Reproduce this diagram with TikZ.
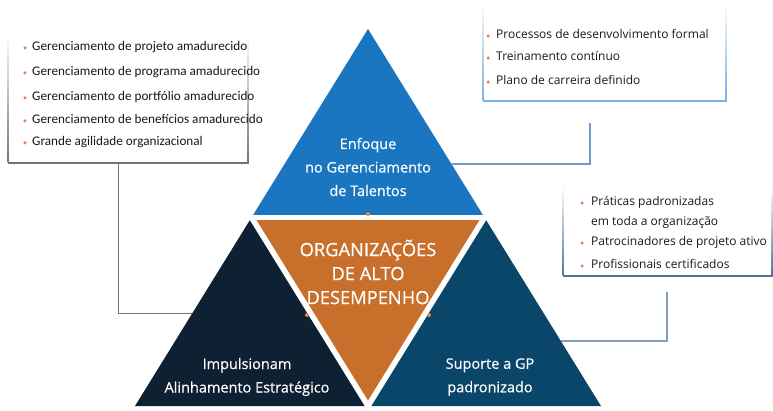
\documentclass[tikz,border=0pt]{standalone}
\usepackage{fontspec}
\setmainfont{Open Sans}
\newfontfamily\carl{Carlito}
\newfontfamily\lab{Open Sans}[FakeBold=0.4]
\usetikzlibrary{calc}
\definecolor{tblue}{HTML}{1A76C0}
\definecolor{torange}{HTML}{C8702B}
\definecolor{tnavy}{HTML}{0E2132}
\definecolor{tteal}{HTML}{0A4669}
\definecolor{bulc}{HTML}{E8874A}
\definecolor{boxgray}{HTML}{6D7580}
\definecolor{boxblue}{HTML}{7AAEE0}
\definecolor{boxsteel}{HTML}{51719A}
\begin{document}
\begin{tikzpicture}[x=1pt,y=-1pt,
  bul/.style={circle,fill=bulc,inner sep=0pt,minimum size=3.5pt},
  txtA/.style={anchor=mid west,inner sep=0pt,font=\carl\fontsize{13.2}{15}\selectfont,text=black!90},
  txtB/.style={anchor=mid west,inner sep=0pt,font=\fontsize{12}{14}\selectfont,text=black!90},
  tlabel/.style={align=center,text=white,inner sep=0pt,font=\lab\fontsize{14.5}{23.5}\selectfont},
  clabel/.style={align=center,text=white,inner sep=0pt,font=\lab\fontsize{18.3}{24}\selectfont},
  gapline/.style={white,line width=5.5pt},
  jdot/.style={circle,fill=bulc,inner sep=0pt,minimum size=4pt}]
\useasboundingbox (0,0) rectangle (773,411);
% big triangle subdivided
\coordinate (A) at (368,29);
\coordinate (BL) at (135,406);
\coordinate (BR) at (601,406);
\coordinate (L) at (251.5,217.5);
\coordinate (R) at (484.5,217.5);
\coordinate (B) at (368,406);
\fill[tblue] (A)--(L)--(R)--cycle;
\fill[torange] (L)--(R)--(B)--cycle;
\fill[tnavy] (L)--(BL)--(B)--cycle;
\fill[tteal] (R)--(B)--(BR)--cycle;
\draw[gapline] ($(L)!-0.05!(R)$) -- ($(R)!-0.05!(L)$);
\draw[gapline] ($(L)!-0.05!(B)$) -- ($(B)!-0.05!(L)$);
\draw[gapline] ($(R)!-0.05!(B)$) -- ($(B)!-0.05!(R)$);
\node[jdot] (j1) at (368,214) {};
\node[jdot] (j2) at (307,315) {};
\node[jdot] (j3) at (429,315) {};
% triangle labels
\node[tlabel] (n1) at (368,167) {Enfoque\\no Gerenciamento\\de Talentos};
\node[clabel] (n0) at (368,272) {ORGANIZAÇÕES\\DE ALTO\\DESEMPENHO};
\node[tlabel] (n2) at (247,377) {Impulsionam\\Alinhamento Estratégico};
\node[tlabel] (n3) at (490,377) {Suporte a GP\\padronizado};
% box 1
\fill[white] (8,37) rectangle (248,163);
\shade[top color=white,bottom color=boxgray] (7.5,34) rectangle (8.7,163);
\shade[top color=white,bottom color=boxgray] (247.3,34) rectangle (248.5,163);
\draw[boxgray,line width=1.6pt] (7.5,163) -- (248.5,163);
\node[bul] (a1) at (25,48) {};
\node[txtA] (ta1) at (32,48) {Gerenciamento de projeto amadurecido};
\node[bul] (a2) at (25,73) {};
\node[txtA] (ta2) at (32,73) {Gerenciamento de programa amadurecido};
\node[bul] (a3) at (25,98) {};
\node[txtA] (ta3) at (32,98) {Gerenciamento de portfólio amadurecido};
\node[bul] (a4) at (25,121) {};
\node[txtA] (ta4) at (32,121) {Gerenciamento de benefícios amadurecido};
\node[bul] (a5) at (25,143) {};
\node[txtA] (ta5) at (32,143) {Grande agilidade organizacional};
\coordinate (c1a) at (118,164);
\coordinate (c1b) at (192,314);
\draw[boxgray,line width=1pt] (c1a) |- (c1b);
% box 2
\shade[top color=white,bottom color=boxblue] (482.5,0) rectangle (483.7,101);
\shade[top color=white,bottom color=boxblue] (725.3,0) rectangle (726.5,101);
\draw[boxblue,line width=1.4pt] (482.5,101) -- (726.5,101);
\node[bul] (b1) at (488,36) {};
\node[txtB] (tb1) at (496,36) {Processos de desenvolvimento formal};
\node[bul] (b2) at (488,58) {};
\node[txtB] (tb2) at (496,58) {Treinamento contínuo};
\node[bul] (b3) at (488,82) {};
\node[txtB] (tb3) at (496,82) {Plano de carreira definido};
\coordinate (c2a) at (590,123);
\coordinate (c2b) at (451,164);
\draw[boxblue!90!black,line width=1.2pt] (c2a) |- (c2b);
% box 3
\shade[top color=white,bottom color=boxsteel] (562.5,185) rectangle (563.7,276);
\shade[top color=white,bottom color=boxsteel] (771.3,185) rectangle (772.5,276);
\draw[boxsteel,line width=1.4pt] (562.5,276) -- (772.5,276);
\node[bul] (d1) at (582,203) {};
\node[txtB] (td1) at (591,203) {Práticas padronizadas};
\node[txtB] (td2) at (591,223) {em toda a organização};
\node[bul] (d3) at (582,243) {};
\node[txtB] (td3) at (591,243) {Patrocinadores de projeto ativo};
\node[bul] (d4) at (582,266) {};
\node[txtB] (td4) at (591,266) {Profissionais certificados};
\coordinate (c3a) at (667,292);
\coordinate (c3b) at (561,341);
\draw[boxsteel!70!white,line width=1.2pt] (c3a) |- (c3b);
\end{tikzpicture}
\end{document}
